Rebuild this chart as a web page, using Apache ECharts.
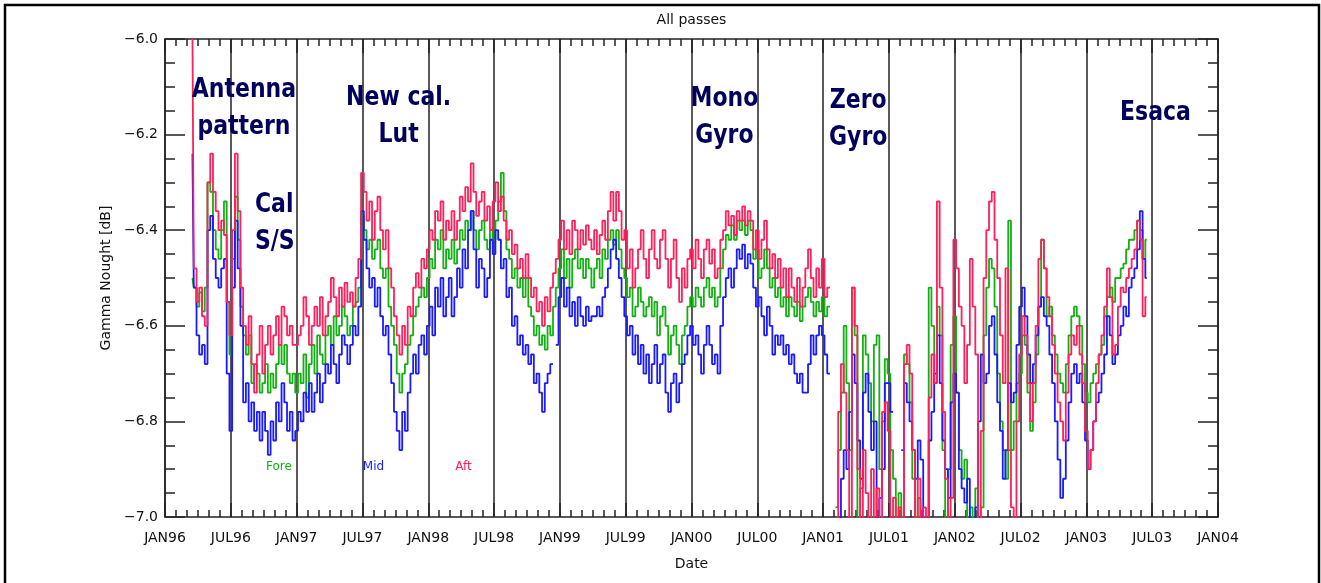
<!DOCTYPE html>
<html>
<head>
<meta charset="utf-8">
<title>All passes</title>
<script src="https://cdn.jsdelivr.net/npm/echarts@6/dist/echarts.min.js"></script>
<style>
html, body { margin: 0; padding: 0; background: #fff; }
#main { width: 1321px; height: 583px; }
</style>
</head>
<body>
<div id="main"></div>
<script>
// samples every quarter month, first one in mid-March 1996 (months counted from JAN96)
var firstMonth = 2.5
var monthStep = 0.25

// tick labels, one every 6 months
var dateLabels = ['JAN96', 'JUL96', 'JAN97', 'JUL97', 'JAN98', 'JUL98', 'JAN99', 'JUL99',
	'JAN00', 'JUL00', 'JAN01', 'JUL01', 'JAN02', 'JUL02', 'JAN03', 'JUL03', 'JAN04']

// gamma nought [dB], one row per half year
var foreDb = [
	-6.50,-6.52,-6.56,-6.53,-6.57,-6.52,-6.30,-6.32,-6.40,-6.44,-6.46,-6.40,-6.34,-6.55,
	-6.66,-6.46,-6.33,-6.42,-6.56,-6.62,-6.66,-6.62,-6.72,-6.68,-6.70,-6.74,-6.72,-6.68,-6.74,-6.70,-6.73,-6.68,-6.64,-6.68,-6.64,-6.70,-6.72,-6.70,
	-6.74,-6.70,-6.72,-6.66,-6.75,-6.68,-6.64,-6.70,-6.62,-6.66,-6.68,-6.62,-6.60,-6.64,-6.58,-6.62,-6.60,-6.56,-6.58,-6.62,-6.60,-6.56,-6.55,-6.52,
	-6.37,-6.40,-6.44,-6.42,-6.46,-6.44,-6.42,-6.48,-6.50,-6.48,-6.56,-6.60,-6.64,-6.70,-6.74,-6.70,-6.68,-6.64,-6.62,-6.58,-6.56,-6.54,-6.52,-6.54,
	-6.50,-6.46,-6.48,-6.42,-6.44,-6.40,-6.48,-6.44,-6.46,-6.42,-6.47,-6.44,-6.40,-6.42,-6.38,-6.40,-6.36,-6.40,-6.44,-6.40,-6.38,-6.42,-6.44,-6.40,
	-6.42,-6.38,-6.34,-6.28,-6.36,-6.44,-6.46,-6.50,-6.48,-6.52,-6.50,-6.54,-6.50,-6.56,-6.58,-6.62,-6.60,-6.64,-6.62,-6.65,-6.60,-6.62,-6.56,-6.52,
	-6.48,-6.44,-6.50,-6.46,-6.52,-6.46,-6.44,-6.48,-6.46,-6.50,-6.46,-6.48,-6.52,-6.48,-6.46,-6.50,-6.44,-6.46,-6.42,-6.40,-6.43,-6.40,-6.44,-6.48,
	-6.50,-6.54,-6.52,-6.58,-6.56,-6.52,-6.55,-6.58,-6.56,-6.54,-6.58,-6.55,-6.62,-6.58,-6.56,-6.60,-6.66,-6.62,-6.60,-6.64,-6.68,-6.62,-6.60,-6.56,
	-6.54,-6.56,-6.52,-6.54,-6.56,-6.52,-6.50,-6.54,-6.52,-6.56,-6.54,-6.48,-6.44,-6.41,-6.42,-6.39,-6.42,-6.38,-6.40,-6.38,-6.41,-6.38,-6.40,-6.46,
	-6.44,-6.50,-6.48,-6.44,-6.48,-6.52,-6.50,-6.54,-6.52,-6.56,-6.54,-6.58,-6.54,-6.56,-6.58,-6.55,-6.59,-6.56,-6.54,-6.52,-6.55,-6.58,-6.55,-6.57,
	-6.54,-6.58,-6.56,null,null,-6.98,-6.86,-6.74,-6.60,-6.72,-6.86,-6.52,-6.62,-7.05,-6.94,-6.62,-6.66,-6.72,-6.80,-6.64,-6.62,-6.90,-6.80,-6.67,
	-6.70,-6.86,-6.92,-7.05,-6.95,-7.05,-6.66,-6.68,-6.76,-6.92,-7.05,-6.96,-7.05,-7.05,-7.05,-6.52,-6.60,-6.72,-6.56,-6.62,-6.86,-7.05,-6.90,-6.64,
	-6.58,-6.74,-6.86,-6.92,-6.88,-7.05,-6.98,-7.05,-6.94,-7.05,-6.98,-6.62,-6.52,-6.46,-6.48,-6.56,-6.70,-6.80,-6.86,-6.92,-6.38,-6.86,-6.80,-6.72,
	-6.70,-6.62,-6.64,-6.74,-6.82,-6.76,-6.66,-6.56,-6.42,-6.48,-6.58,-6.56,-6.62,-6.66,-6.70,-6.72,-6.74,-6.68,-6.62,-6.58,-6.56,-6.58,-6.60,-6.68,
	-6.74,-6.76,-6.72,-6.70,-6.68,-6.66,-6.64,-6.58,-6.54,-6.52,-6.55,-6.50,-6.50,-6.48,-6.47,-6.44,-6.42,-6.42,-6.40,-6.38,-6.40,-6.46,-6.42
]
var midDb = [
	-6.24,-6.52,-6.62,-6.66,-6.64,-6.68,-6.40,-6.37,-6.46,-6.50,-6.52,-6.48,-6.46,-6.70,
	-6.82,-6.52,-6.38,-6.48,-6.60,-6.76,-6.72,-6.80,-6.76,-6.82,-6.78,-6.84,-6.78,-6.82,-6.87,-6.80,-6.84,-6.76,-6.80,-6.72,-6.76,-6.82,-6.78,-6.84,
	-6.82,-6.78,-6.80,-6.74,-6.78,-6.72,-6.78,-6.74,-6.70,-6.76,-6.72,-6.68,-6.70,-6.64,-6.68,-6.72,-6.66,-6.62,-6.64,-6.68,-6.64,-6.60,-6.62,-6.56,
	-6.36,-6.42,-6.48,-6.52,-6.50,-6.56,-6.52,-6.58,-6.62,-6.60,-6.66,-6.72,-6.78,-6.82,-6.86,-6.78,-6.82,-6.74,-6.70,-6.66,-6.70,-6.64,-6.62,-6.66,
	-6.60,-6.56,-6.62,-6.52,-6.56,-6.50,-6.58,-6.54,-6.50,-6.58,-6.54,-6.48,-6.52,-6.44,-6.48,-6.40,-6.36,-6.44,-6.52,-6.46,-6.48,-6.54,-6.50,-6.42,
	-6.45,-6.40,-6.42,-6.48,-6.46,-6.54,-6.52,-6.60,-6.58,-6.64,-6.62,-6.66,-6.64,-6.68,-6.66,-6.72,-6.70,-6.74,-6.78,-6.72,-6.70,-6.68,null,-6.64,
	-6.54,-6.50,-6.56,-6.52,-6.58,-6.55,-6.60,-6.54,-6.58,-6.60,-6.56,-6.59,-6.58,-6.58,-6.56,-6.58,-6.54,-6.52,-6.48,-6.44,-6.42,-6.46,-6.50,-6.54,
	-6.58,-6.62,-6.60,-6.66,-6.62,-6.68,-6.64,-6.70,-6.66,-6.72,-6.68,-6.64,-6.72,-6.68,-6.66,-6.74,-6.78,-6.72,-6.70,-6.76,-6.72,-6.68,-6.66,-6.62,
	-6.60,-6.64,-6.62,-6.66,-6.70,-6.64,-6.60,-6.64,-6.68,-6.66,-6.70,-6.60,-6.54,-6.50,-6.48,-6.52,-6.48,-6.44,-6.46,-6.43,-6.48,-6.45,-6.47,-6.52,
	-6.56,-6.54,-6.58,-6.62,-6.56,-6.60,-6.66,-6.62,-6.64,-6.62,-6.66,-6.64,-6.68,-6.66,-6.70,-6.72,-6.70,-6.74,-6.74,-6.68,-6.62,-6.66,-6.62,-6.60,
	-6.62,-6.66,-6.70,null,null,-7.05,-7.05,-6.92,-6.86,-6.90,-6.78,-6.66,-6.72,-6.84,-6.92,-6.74,-6.70,-6.78,-6.86,-6.80,-7.05,-6.96,-6.90,-6.72,
	-6.72,-6.78,null,null,null,-6.86,-6.72,-6.76,-6.80,-6.86,-6.92,-6.84,-6.88,-7.05,-7.05,-6.84,-6.78,-6.70,-6.62,-6.72,-6.84,-6.90,-6.96,-6.76,
	-6.70,-6.74,-6.90,-6.94,-6.97,-6.92,-7.05,-7.05,-6.98,-6.80,-6.66,-6.72,-6.70,-6.60,-6.58,-6.66,-6.76,-6.82,-6.92,-6.86,-6.72,-6.76,-6.74,-6.64,
	-6.56,-6.52,-6.58,-6.66,-6.72,-6.68,-6.62,-6.56,-6.54,-6.58,-6.60,-6.66,-6.72,-6.80,-6.88,-6.96,-6.92,-6.84,-6.76,-6.70,-6.68,-6.72,-6.70,-6.76,
	-6.84,-6.90,-6.86,-6.80,-6.76,-6.74,-6.70,-6.66,-6.58,-6.62,-6.68,-6.66,-6.62,-6.60,-6.56,-6.58,-6.52,-6.50,-6.48,-6.44,-6.36,-6.46,-6.50
]
var aftDb = [
	-5.98,-6.48,-6.55,-6.52,-6.58,-6.60,-6.30,-6.24,-6.32,-6.36,-6.40,-6.38,-6.41,-6.55,
	-6.62,-6.40,-6.24,-6.36,-6.52,-6.60,-6.64,-6.58,-6.68,-6.74,-6.66,-6.60,-6.70,-6.64,-6.60,-6.66,-6.62,-6.58,-6.64,-6.56,-6.58,-6.62,-6.60,-6.64,
	-6.64,-6.62,-6.60,-6.54,-6.58,-6.64,-6.60,-6.56,-6.60,-6.54,-6.62,-6.58,-6.55,-6.50,-6.54,-6.58,-6.52,-6.56,-6.51,-6.55,-6.53,-6.56,-6.50,-6.46,
	-6.28,-6.32,-6.38,-6.34,-6.42,-6.36,-6.33,-6.40,-6.44,-6.40,-6.48,-6.52,-6.58,-6.62,-6.66,-6.60,-6.64,-6.56,-6.58,-6.52,-6.49,-6.52,-6.46,-6.48,
	-6.44,-6.40,-6.42,-6.36,-6.38,-6.34,-6.42,-6.38,-6.40,-6.36,-6.42,-6.38,-6.33,-6.36,-6.31,-6.34,-6.26,-6.32,-6.37,-6.34,-6.32,-6.38,-6.35,-6.40,
	-6.34,-6.30,-6.36,-6.33,-6.38,-6.42,-6.40,-6.45,-6.43,-6.48,-6.46,-6.50,-6.45,-6.50,-6.54,-6.52,-6.57,-6.55,-6.60,-6.54,-6.57,-6.52,-6.49,-6.46,
	-6.42,-6.38,-6.44,-6.40,-6.45,-6.38,-6.40,-6.44,-6.40,-6.43,-6.39,-6.42,-6.44,-6.40,-6.45,-6.41,-6.38,-6.42,-6.36,-6.32,-6.38,-6.32,-6.36,-6.42,
	-6.40,-6.48,-6.44,-6.52,-6.48,-6.44,-6.40,-6.46,-6.50,-6.44,-6.40,-6.46,-6.48,-6.42,-6.40,-6.46,-6.52,-6.46,-6.42,-6.50,-6.55,-6.48,-6.52,-6.46,
	-6.44,-6.48,-6.42,-6.46,-6.50,-6.44,-6.42,-6.47,-6.44,-6.50,-6.48,-6.42,-6.40,-6.36,-6.39,-6.37,-6.41,-6.36,-6.38,-6.35,-6.39,-6.36,-6.38,-6.44,
	-6.40,-6.46,-6.42,-6.38,-6.44,-6.48,-6.45,-6.50,-6.46,-6.52,-6.48,-6.54,-6.48,-6.52,-6.55,-6.50,-6.56,-6.52,-6.48,-6.44,-6.50,-6.54,-6.48,-6.52,
	-6.46,-6.54,-6.52,null,null,-7.05,-6.78,-6.68,-6.74,-6.86,-7.05,-6.52,-6.60,-6.90,-7.05,-6.86,-6.95,-7.05,-6.90,-7.05,-6.94,-7.05,-6.78,-6.76,
	-6.82,-7.05,-6.96,-7.05,-6.98,-7.05,-6.68,-6.64,-6.70,-6.86,-7.05,-6.92,-7.05,-6.98,-7.05,-6.75,-6.66,-6.72,-6.34,-6.52,-6.78,-6.92,-7.05,-6.96,
	-6.42,-6.48,-6.56,-6.60,-6.72,-6.64,-6.46,-6.56,-6.66,-7.05,-6.82,-6.50,-6.40,-6.34,-6.32,-6.42,-6.50,-6.62,-6.72,-6.48,-6.86,-6.98,-7.05,-6.80,
	-6.66,-6.58,-6.62,-6.72,-6.80,-6.72,-6.60,-6.46,-6.42,-6.48,-6.54,-6.58,-6.64,-6.70,-6.76,-6.80,-6.84,-6.74,-6.66,-6.62,-6.64,-6.60,-6.66,-6.72,
	-6.82,-6.90,-6.86,-6.80,-6.72,-6.66,-6.62,-6.56,-6.48,-6.54,-6.66,-6.64,-6.56,-6.52,-6.53,-6.50,-6.48,-6.46,-6.44,-6.38,-6.42,-6.58,-6.54
]

// event notes, placed in data units (month, dB)
var noteTexts = ['Antenna\npattern', 'Cal\nS/S', 'New cal.\nLut', 'Mono\nGyro', 'Zero\nGyro', 'Esaca']
var noteMonths = [7.2, 8.2, 21.3, 51.0, 63.2, 90.3]
var noteDb = [-6.145, -6.386, -6.162, -6.165, -6.169, -6.156]
var noteAlign = ['center', 'left', 'center', 'center', 'center', 'center']

var colFore = '#12b012'
var colMid = '#1a1aff'
var colAft = '#ff1f5a'
var axisCol = '#222'
var font = 'DejaVu Sans'

function toPairs(arr) {
	var out = []
	for(var i = 0; i < arr.length; i ++) {
		out.push([firstMonth + i * monthStep, arr[i]])
	}
	return out
}

function dateFmt(v) {
	return dateLabels[Math.round(v / 6)] || ''
}

function dbFmt(v) {
	return v.toFixed(1).replace('-', '\u2212')
}

function xAxisBase(pos) {
	return {
		type: 'value',
		position: pos,
		min: 0,
		max: 96,
		interval: 6,
		axisLine: { show: true, onZero: false, lineStyle: { color: axisCol, width: 1.5 } },
		axisTick: { show: true, inside: true, length: 14, lineStyle: { color: axisCol, width: 1.5 } },
		minorTick: { show: true, splitNumber: 6, length: 7, lineStyle: { color: axisCol, width: 1.5 } },
		splitLine: { show: false },
		axisLabel: { show: false }
	}
}

function yAxisBase(pos) {
	return {
		type: 'value',
		position: pos,
		min: -7,
		max: -6,
		interval: 0.2,
		axisLine: { show: true, onZero: false, lineStyle: { color: axisCol, width: 1.5 } },
		axisTick: { show: true, inside: true, length: 20, lineStyle: { color: axisCol, width: 1.5 } },
		minorTick: { show: true, splitNumber: 4, length: 10, lineStyle: { color: axisCol, width: 1.5 } },
		splitLine: { show: false },
		axisLabel: { show: false }
	}
}

var xBottom = xAxisBase('bottom')
xBottom.splitLine = { show: true, lineStyle: { color: axisCol, width: 1.5 } }
xBottom.axisLabel = { show: true, margin: 14, color: '#111', fontFamily: font, fontSize: 14,
	formatter: dateFmt, showMinLabel: true, showMaxLabel: true }
xBottom.name = 'Date'
xBottom.nameLocation = 'middle'
xBottom.nameGap = 40
xBottom.nameTextStyle = { color: '#111', fontFamily: font, fontSize: 14 }

var xTop = xAxisBase('top')
xTop.name = 'All passes'
xTop.nameLocation = 'middle'
xTop.nameGap = 12
xTop.nameTextStyle = { color: '#111', fontFamily: font, fontSize: 14 }

var yLeft = yAxisBase('left')
yLeft.axisLabel = { show: true, margin: 7, color: '#111', fontFamily: font, fontSize: 14, formatter: dbFmt,
	showMinLabel: true, showMaxLabel: true }
yLeft.name = 'Gamma Nought [dB]'
yLeft.nameLocation = 'middle'
yLeft.nameGap = 50
yLeft.nameTextStyle = { color: '#111', fontFamily: font, fontSize: 14 }

var yRight = yAxisBase('right')

function lineSeries(name, arr, color) {
	return {
		name: name,
		type: 'line',
		xAxisIndex: 0,
		yAxisIndex: 0,
		data: toPairs(arr),
		step: 'middle',
		symbol: 'none',
		showSymbol: false,
		connectNulls: false,
		clip: true,
		lineStyle: { color: color, width: 1.8 },
		itemStyle: { color: color },
		emphasis: { disabled: true }
	}
}

var chart = echarts.init(document.getElementById('main'))

var option = {
	animation: false,
	backgroundColor: '#fff',
	grid: { left: 165, right: 103, top: 39, bottom: 66 },
	legend: {
		data: [
			{ name: 'Fore', textStyle: { color: colFore } },
			{ name: 'Mid', textStyle: { color: colMid } },
			{ name: 'Aft', textStyle: { color: colAft } }
		],
		icon: 'none',
		itemWidth: 0,
		itemHeight: 12,
		itemGap: 66,
		left: 256,
		top: 456,
		selectedMode: false,
		textStyle: { fontFamily: font, fontSize: 12 }
	},
	xAxis: [xBottom, xTop],
	yAxis: [yLeft, yRight],
	series: [
		lineSeries('Fore', foreDb, colFore),
		lineSeries('Mid', midDb, colMid),
		lineSeries('Aft', aftDb, colAft)
	]
}

chart.setOption(option)

// notes and the outer frame
var graphics = [{
	type: 'rect',
	silent: true,
	z: 100,
	shape: { x: 5, y: 5, width: 1314, height: 640 },
	style: { fill: 'none', stroke: '#000', lineWidth: 2.5 }
}]
for(var i = 0; i < noteTexts.length; i ++) {
	var p = chart.convertToPixel({ gridIndex: 0 }, [noteMonths[i], noteDb[i]])
	graphics.push({
		type: 'text',
		silent: true,
		z: 50,
		x: p[0],
		y: p[1],
		scaleY: 1.2,
		style: {
			text: noteTexts[i],
			fontFamily: font,
			fontWeight: 'bold',
			fontSize: 22,
			lineHeight: 31,
			fill: '#00005f',
			align: noteAlign[i],
			textAlign: noteAlign[i],
			verticalAlign: 'middle',
			textVerticalAlign: 'middle'
		}
	})
}
chart.setOption({ graphic: graphics })
</script>
</body>
</html>
